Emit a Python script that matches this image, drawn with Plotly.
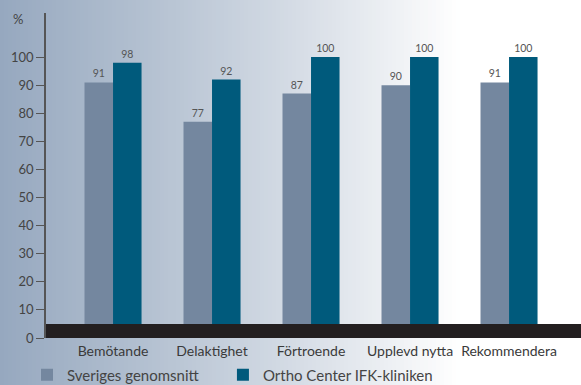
import plotly.graph_objects as go

categories = ["Bemötande", "Delaktighet", "Förtroende", "Upplevd nytta", "Rekommendera"]
sverige = [91, 77, 87, 90, 91]
ortho = [98, 92, 100, 100, 100]
series_names = ["Sveriges genomsnitt", "Ortho Center IFK-kliniken"]
yticks = list(range(0, 101, 10))

W, H = 581, 385
ML, MR, MT, MB = 46, 0, 13, 47
PW = W - ML - MR
PH = H - MT - MB

FONT = "Lato"
PAD = "\u00a0" * 5
fig = go.Figure()
fig.add_trace(go.Bar(x=categories, y=sverige, name=series_names[0] + PAD,
                     marker=dict(color="#74879f", line=dict(width=0)),
                     text=[str(v) for v in sverige], textposition="outside",
                     textfont=dict(size=10.5, color="#555555", family=FONT), cliponaxis=False))
fig.add_trace(go.Bar(x=categories, y=ortho, name=series_names[1],
                     marker=dict(color="#005a7c", line=dict(width=0)),
                     text=[str(v) for v in ortho], textposition="outside",
                     textfont=dict(size=10.5, color="#555555", family=FONT), cliponaxis=False))

# background gradient strips
stops = [(0, (150, 168, 191)), (150, (180, 193, 209)), (300, (214, 221, 230)),
         (400, (240, 242, 245)), (460, (255, 255, 255)), (581, (255, 255, 255))]

def col(px):
    for (a, ca), (b, cb) in zip(stops[:-1], stops[1:]):
        if a <= px <= b:
            t = (px - a) / (b - a)
            c = [round(ca[i] + (cb[i] - ca[i]) * t) for i in range(3)]
            return "rgb(%d,%d,%d)" % tuple(c)
    return "rgb(255,255,255)"

shapes = []
step = 4
for px in range(0, W, step):
    shapes.append(dict(type="rect", xref="paper", yref="paper", layer="below",
                       x0=(px - ML) / PW, x1=(px + step + 1 - ML) / PW,
                       y0=-MB / PH - 0.01, y1=1 + MT / PH + 0.01,
                       fillcolor=col(px + step / 2), line=dict(width=0)))
# dark base band
shapes.append(dict(type="rect", xref="paper", yref="y", layer="above",
                   x0=0, x1=1, y0=0, y1=5, fillcolor="#231f20", line=dict(width=0)))

fig.update_layout(
    width=W, height=H,
    margin=dict(l=ML, r=MR, t=MT, b=MB, autoexpand=False),
    paper_bgcolor="white", plot_bgcolor="rgba(0,0,0,0)",
    font=dict(family=FONT, color="#3a3a3a", size=13),
    barmode="group", bargap=0.424, bargroupgap=0,
    shapes=shapes,
    xaxis=dict(range=[-0.677, 4.727], showgrid=False, showline=False, zeroline=False,
               ticks="", automargin=False, ticklabelstandoff=3,
               tickfont=dict(size=14, color="#3a3a3a", family=FONT)),
    yaxis=dict(range=[0, 115.7], tickvals=yticks, showgrid=False, zeroline=False,
               showline=True, linecolor="#555555", linewidth=1.5, automargin=False,
               ticks="outside", ticklen=8, tickcolor="#555555", tickwidth=1,
               tickfont=dict(size=13, color="#444444", family=FONT)),
    legend=dict(orientation="h", xref="container", yref="container",
                x=27 / W, y=1 - 375 / H, xanchor="left", yanchor="middle",
                font=dict(size=15, color="#444444", family=FONT),
                bgcolor="rgba(0,0,0,0)"),
    annotations=[dict(text="%", xref="paper", yref="paper", x=-0.04, y=1.0,
                      xanchor="right", yanchor="top", showarrow=False,
                      font=dict(size=13, color="#444444", family=FONT), yshift=4)],
)

fig.write_html("out.html")
